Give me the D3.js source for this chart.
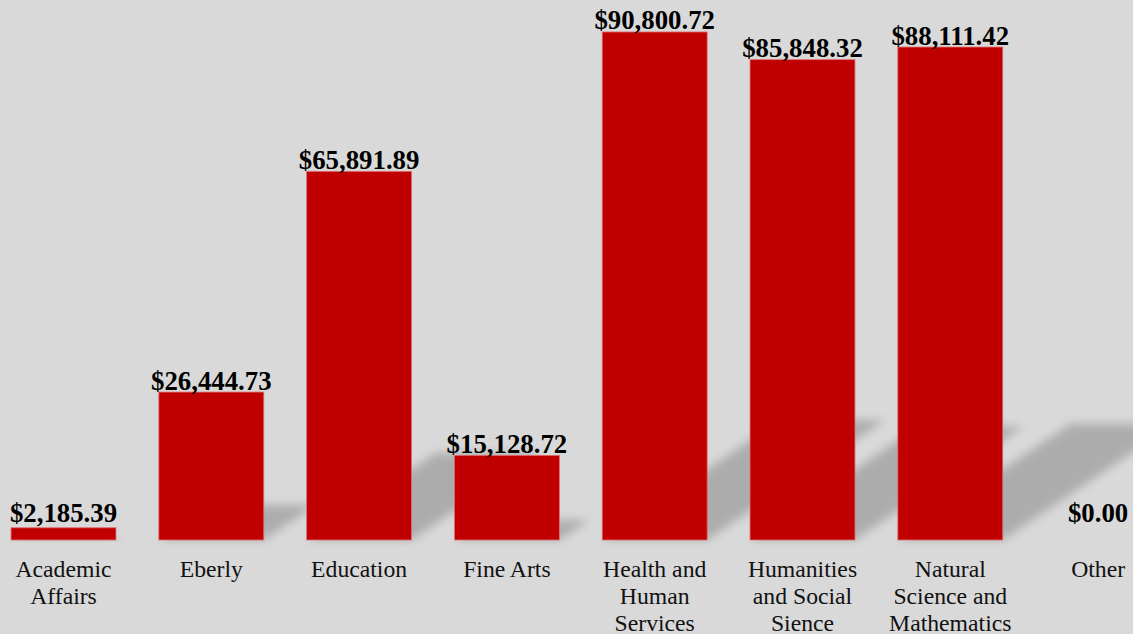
<!DOCTYPE html>
<html>
<head>
<meta charset="utf-8">
<script src="https://cdn.jsdelivr.net/npm/d3@7"></script>
<style>
  html, body { margin: 0; padding: 0; background: #d9d9d9; }
  svg { display: block; }
</style>
</head>
<body>
<svg id="svg_bar" width="1133" height="634"></svg>
<script>
// data
let categories = ['Academic Affairs', 'Eberly', 'Education', 'Fine Arts', 'Health and Human Services',
    'Humanities and Social Sience', 'Natural Science and Mathematics', 'Other'];
let tick_lines = [['Academic', 'Affairs'], ['Eberly'], ['Education'], ['Fine Arts'],
    ['Health and', 'Human', 'Services'], ['Humanities', 'and Social', 'Sience'],
    ['Natural', 'Science and', 'Mathematics'], ['Other']];
let values = [2185.39, 26444.73, 65891.89, 15128.72, 90800.72, 85848.32, 88111.42, 0];

let svg = d3.select('#svg_bar');
let width = 1133, height = 634;
let base = 540;

svg.append('rect').attr('width', width).attr('height', height).attr('fill', '#d9d9d9');

let x = d3.scaleBand().domain(categories).range([-10.4, 1172]).paddingInner(0.29).paddingOuter(0.145);
let y = d3.scaleLinear().domain([0, 100000]).range([base, -19.5]);

// blur filter for the shadows
let defs = svg.append('defs');
let blur = defs.append('filter').attr('id', 'shadow_blur')
    .attr('x', '-50%').attr('y', '-50%').attr('width', '200%').attr('height', '200%');
blur.append('feGaussianBlur').attr('stdDeviation', 5);

// shadows: skewed, squashed copy of each bar
let k = 0.236, m = 0.35;
svg.append('g').selectAll('polygon').data(values).enter()
    .append('polygon')
    .attr('points', (d, i) => {
        let x0 = x(categories[i]), x1 = x0 + x.bandwidth();
        let h = base - y(d);
        return [[x0, base], [x1, base], [x1 + h * m, base - h * k], [x0 + h * m, base - h * k]]
            .map(p => p.join(',')).join(' ');
    })
    .attr('fill', '#000')
    .attr('opacity', 0.2)
    .attr('filter', 'url(#shadow_blur)');

// bars
svg.append('g').selectAll('rect').data(values).enter()
    .append('rect')
    .attr('x', (d, i) => x(categories[i]))
    .attr('y', d => y(d))
    .attr('width', x.bandwidth())
    .attr('height', d => base - y(d))
    .attr('fill', '#c00000')
    .attr('stroke', '#e07070')
    .attr('stroke-width', d => d > 0 ? 0.8 : 0);

// value labels
let fmt = d3.format(',.2f');
svg.append('g').selectAll('text').data(values).enter()
    .append('text')
    .attr('x', (d, i) => x(categories[i]) + x.bandwidth() / 2)
    .attr('y', d => Math.min(y(d) - 2.5, base - 18))
    .attr('text-anchor', 'middle')
    .attr('font-family', '"Liberation Serif", "Times New Roman", serif')
    .attr('font-weight', 'bold')
    .attr('font-size', 26.8)
    .attr('fill', '#000')
    .text(d => '$' + fmt(d));

// category labels
let ticks = svg.append('g').selectAll('text').data(tick_lines).enter()
    .append('text')
    .attr('text-anchor', 'middle')
    .attr('font-family', '"Liberation Serif", "Times New Roman", serif')
    .attr('font-size', 23.7)
    .attr('fill', '#111');
ticks.selectAll('tspan').data((d, i) => d.map(t => ({ t: t, i: i }))).enter()
    .append('tspan')
    .attr('x', d => x(categories[d.i]) + x.bandwidth() / 2)
    .attr('y', (d, j) => 576.5 + j * 27)
    .text(d => d.t);
</script>
</body>
</html>
